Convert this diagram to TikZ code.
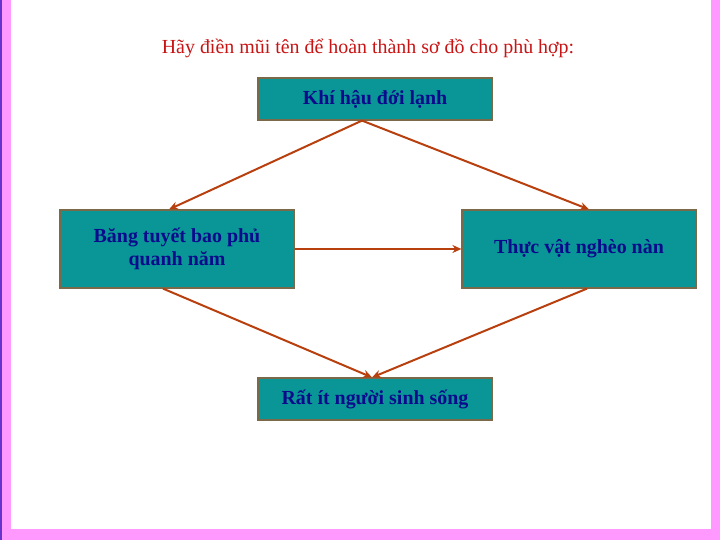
\documentclass[tikz,border=0pt]{standalone}
\usepackage{fontspec}
\setmainfont{Liberation Serif}
\usetikzlibrary{arrows.meta}

\definecolor{framepink}{HTML}{FF99FF}
\definecolor{edgepurple}{HTML}{6633CC}
\definecolor{boxteal}{HTML}{0A9696}
\definecolor{boxline}{HTML}{7A6A4A}
\definecolor{textnavy}{HTML}{0A0A8C}
\definecolor{arrowbrown}{HTML}{B8400E}
\definecolor{titlered}{HTML}{C81414}

\tikzset{
  box/.style={draw=boxline, fill=boxteal, line width=1.2bp,
              minimum width=234bp, text=textnavy, align=center,
              font=\bfseries\fontsize{20}{23}\selectfont},
  link/.style={draw=arrowbrown, line width=2bp,
               -{Stealth[length=9bp,width=8bp]}}
}

\begin{document}
\begin{tikzpicture}[x=1bp, y=-1bp]
 % frame
 \fill[framepink] (0,0) rectangle (720,540);
 \fill[white] (11,0) rectangle (711,529);
 \fill[edgepurple] (0,0) rectangle (2,540);
 \useasboundingbox (0,0) rectangle (720,540);

 \node[text=titlered, font=\fontsize{20}{24}\selectfont] (title) at (368,48)
   {Hãy điền mũi tên để hoàn thành sơ đồ cho phù hợp:};

 \node[box, minimum height=42bp] (khihau) at (375,99) {Khí hậu đới lạnh};
 \node[box, minimum height=78bp] (bangtuyet) at (177,249)
   {Băng tuyết bao phủ\\quanh năm};
 \node[box, minimum height=78bp] (thucvat) at (579,249) {Thực vật nghèo nàn};
 \node[box, minimum height=42bp] (itnguoi) at (375,399) {Rất ít người sinh sống};

 \draw[link] (khihau.south -| 362,0) -- (bangtuyet.north -| 169,0);
 \draw[link] (khihau.south -| 362,0) -- (thucvat.north -| 589,0);
 \draw[link] (bangtuyet.east) -- (thucvat.west);
 \draw[link] (bangtuyet.south -| 163,0) -- (itnguoi.north -| 372,0);
 \draw[link] (thucvat.south -| 587,0) -- (itnguoi.north -| 372,0);
\end{tikzpicture}
\end{document}
